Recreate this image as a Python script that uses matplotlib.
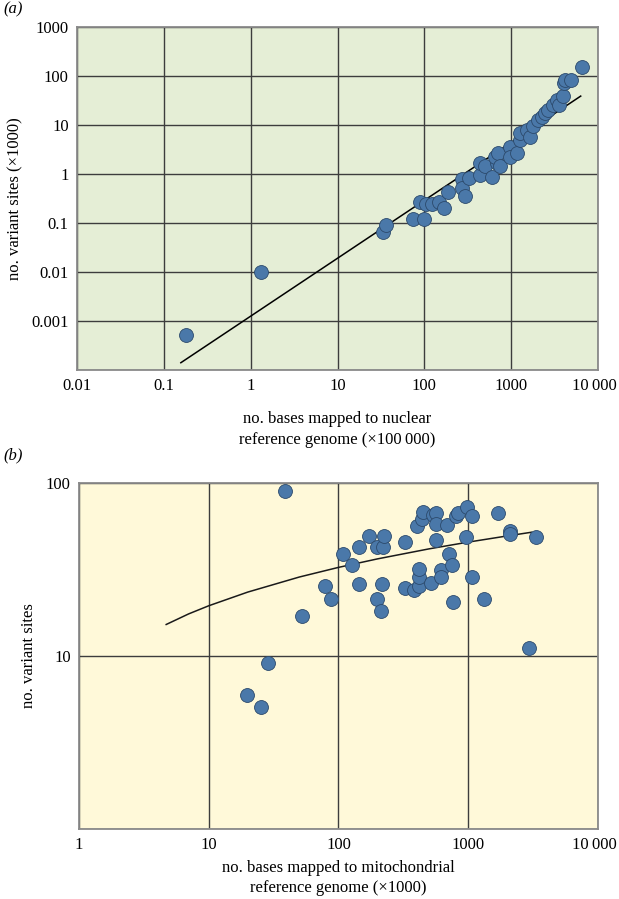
import matplotlib.pyplot as plt
import matplotlib.transforms as mtransforms

# panel (a): nuclear genome
nuc_x = [0.179, 1.30, 33.5, 36.5, 74, 98, 88, 105, 122, 146, 170, 187,
         271, 271, 296, 324, 440, 440, 502, 600, 684, 654, 697, 735,
         975, 975, 1160, 1267, 1267, 1514, 1652, 1805, 2061, 2254, 2462, 2687,
         3014, 3350, 3590, 3990, 4065, 4175, 4853, 6500]
nuc_y = [0.00052, 0.0102, 0.066, 0.091, 0.121, 0.121, 0.264, 0.24, 0.25, 0.27, 0.20, 0.435,
         0.78, 0.51, 0.356, 0.82, 0.95, 1.65, 1.46, 0.88, 1.65, 2.19, 2.72, 1.46,
         3.6, 2.19, 2.64, 4.9, 6.8, 7.9, 5.8, 9.5, 12.7, 14.8, 17.3, 20.2,
         25.7, 32.4, 25.7, 39, 71, 83, 83, 150]
nuc_fit_x = [0.157, 6320]
nuc_fit_y = [0.000141, 39]

# panel (b): mitochondrial genome
mito_x = [38.7, 78.7, 87.5, 52, 109, 28.8, 19.8, 25.4,
          128, 143, 143, 172, 197, 221, 225, 215, 197, 211,
          326, 326, 382, 420, 420, 420, 400, 438, 450, 514, 538, 561, 561, 561,
          614, 617, 682, 711, 745, 767, 805, 838, 972, 1075, 961, 1075, 1322,
          1707, 2099, 2099, 3310, 2953]
mito_y = [90.2, 25.5, 21.3, 17.1, 38.9, 9.07, 5.95, 5.09,
          33.6, 42.8, 26.1, 49.4, 42.8, 42.8, 49.4, 26.1, 21.3, 18.3,
          45.8, 24.6, 24.1, 25.5, 28.5, 31.8, 56.6, 61.9, 68.2, 26.5, 65.3, 67.3, 57.9, 46.8,
          31.4, 28.5, 57.2, 38.9, 33.6, 20.4, 64.7, 67.3, 73, 64.7, 48.5, 28.5, 21.3,
          67.3, 53, 50.7, 48.5, 11.1]
mito_fit_x = [4.7, 7, 10, 20, 50, 100, 200, 500, 1000, 2000, 3083]
mito_fit_y = [15.2, 17.5, 19.5, 23.4, 28.6, 32.5, 36.4, 41.6, 45.5, 49.4, 51.9]

x_ticks_a = [0.01, 0.1, 1, 10, 100, 1000, 10000]
x_labels_a = ["0.01", "0.1", "1", "10", "100", "1000", "10\u2009000"]
y_ticks_a = [0.0001, 0.001, 0.01, 0.1, 1, 10, 100, 1000]
y_labels_a = ["", "0.001", "0.01", "0.1", "1", "10", "100", "1000"]
x_ticks_b = [1, 10, 100, 1000, 10000]
x_labels_b = ["1", "10", "100", "1000", "10\u2009000"]
y_ticks_b = [1, 10, 100]
y_labels_b = ["", "10", "100"]

plt.rcParams["font.family"] = ["Liberation Serif", "DejaVu Serif"]
plt.rcParams["font.size"] = 12

dot_face = "#4a78a9"
dot_edge = "#2c4a6c"
grid_col = "#3d3d3d"
spine_col = "#8a8a8a"

fig = plt.figure(figsize=(6.19, 8.99), dpi=100)


def style_axes(ax, bg, xt, xl, yt, yl):
    ax.set_xscale("log")
    ax.set_yscale("log")
    ax.set_facecolor(bg)
    ax.set_xlim(xt[0], xt[-1])
    ax.set_ylim(yt[0], yt[-1])
    ax.set_xticks(xt, xl)
    ax.set_yticks(yt, yl)
    ax.minorticks_off()
    ax.tick_params(length=0, pad=6, labelsize=12)
    ax.grid(True, which="major", color=grid_col, linewidth=1.0)
    ax.set_axisbelow(True)
    for s in ax.spines.values():
        s.set_color(spine_col)
        s.set_linewidth(1.3)
    # nudge the "10 000" label left so it stays inside the figure
    last = ax.get_xticklabels()[-1]
    last.set_transform(last.get_transform() +
                       mtransforms.ScaledTranslation(-4 / 100, 0, fig.dpi_scale_trans))


ax_a = fig.add_axes([0.1244, 0.5884, 0.8417, 0.3815])
style_axes(ax_a, "#e5eed6", x_ticks_a, x_labels_a, y_ticks_a, y_labels_a)
ax_a.plot(nuc_fit_x, nuc_fit_y, color="black", linewidth=1.1, zorder=2.5)
ax_a.scatter(nuc_x, nuc_y, s=100, color=dot_face, edgecolors=dot_edge,
             linewidths=0.6, zorder=3)
ax_a.set_xlabel("no. bases mapped to nuclear\nreference genome (\u00d7100\u2009000)",
                labelpad=12, linespacing=1.4)
ax_a.set_ylabel("no. variant sites (\u00d71000)", labelpad=6)
fig.text(0.006, 0.989, "(a)", style="italic", fontsize=12, va="center")

ax_b = fig.add_axes([0.1276, 0.0779, 0.8384, 0.3849])
style_axes(ax_b, "#fff9d9", x_ticks_b, x_labels_b, y_ticks_b, y_labels_b)
ax_b.plot(mito_fit_x, mito_fit_y, color="#1a1a1a", linewidth=1.1, zorder=2.5)
ax_b.scatter(mito_x, mito_y, s=100, color=dot_face, edgecolors=dot_edge,
             linewidths=0.6, zorder=3)
ax_b.set_xlabel("no. bases mapped to mitochondrial\nreference genome (\u00d71000)",
                labelpad=5, linespacing=1.3)
ax_b.set_ylabel("no. variant sites", labelpad=6)
fig.text(0.006, 0.493, "(b)", style="italic", fontsize=12, va="center")

fig.savefig("out.png", dpi=100)
plt.close(fig)
